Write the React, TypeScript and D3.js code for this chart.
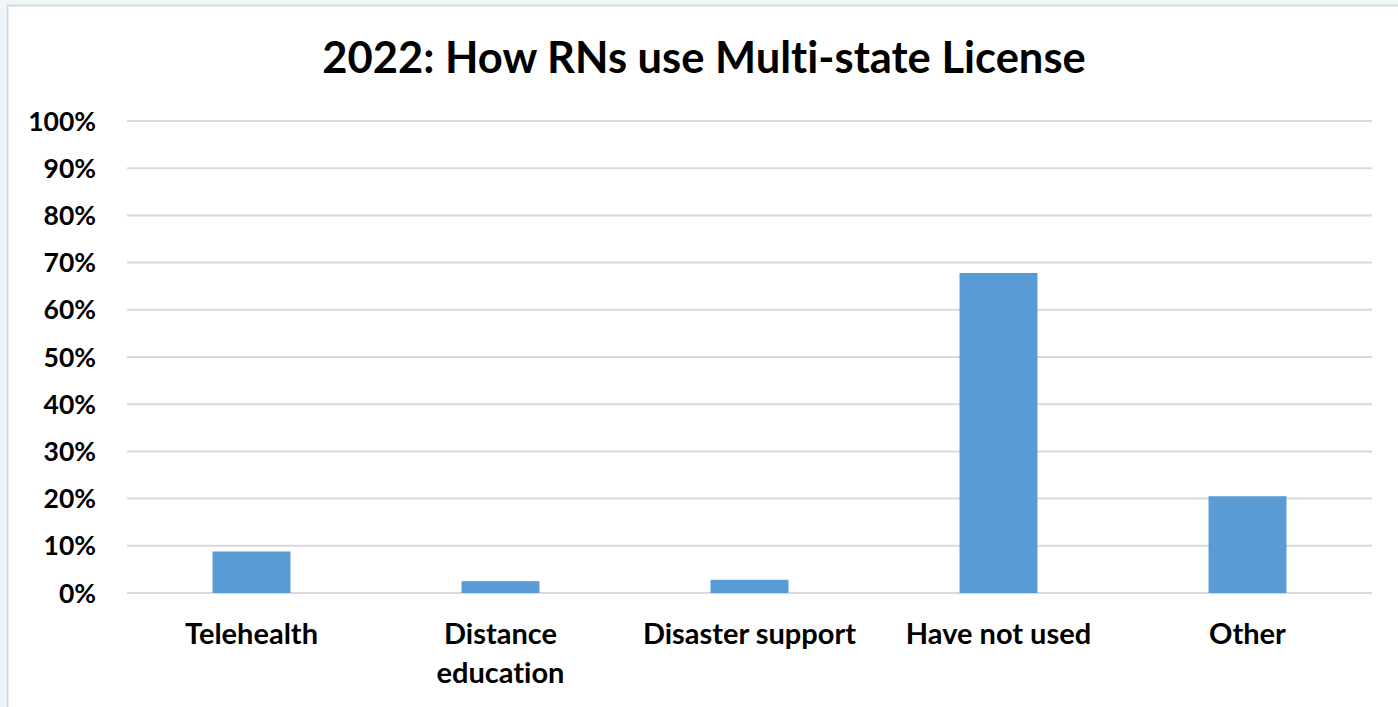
import React from "react";
import * as d3 from "d3";

const categories: string[][] = [
  ["Telehealth"],
  ["Distance", "education"],
  ["Disaster support"],
  ["Have not used"],
  ["Other"],
];
const values: number[] = [0.088, 0.025, 0.028, 0.678, 0.205];
const yTicks: number[] = [0, 0.1, 0.2, 0.3, 0.4, 0.5, 0.6, 0.7, 0.8, 0.9, 1.0];
const title = "2022: How RNs use Multi-state License";

const W = 1398;
const H = 707;
const FONT = "Lato, 'Open Sans', 'Liberation Sans', sans-serif";

export default function App() {
  const x = d3
    .scaleBand<number>()
    .domain(values.map((_, i) => i))
    .range([127, 1372])
    .paddingInner(0.687)
    .paddingOuter(0.3435);
  const y = d3.scaleLinear().domain([0, 1]).range([593, 121]);
  const fmt = d3.format(".0%");

  return (
    <svg
      width={W}
      height={H}
      style={{
        position: "absolute",
        left: 0,
        top: 0,
        display: "block",
        fontVariantLigatures: "none",
      }}
    >
      <rect x={0} y={0} width={W} height={H} fill="#eef6fa" />
      <rect x={7} y={5} width={W} height={H} fill="#ffffff" />
      <line x1={7.5} y1={5} x2={7.5} y2={H} stroke="#d9d9d9" strokeWidth={2} />
      <line x1={7} y1={5.5} x2={W} y2={5.5} stroke="#d9d9d9" strokeWidth={2} />

      <text
        x={704}
        y={73}
        textAnchor="middle"
        fontFamily={FONT}
        fontWeight={700}
        fontSize={43.5}
        fill="#000"
      >
        {title}
      </text>

      {yTicks.map((t) => (
        <g key={t}>
          <line
            x1={127}
            x2={1372}
            y1={y(t)}
            y2={y(t)}
            stroke="#d9d9d9"
            strokeWidth={2}
          />
          <text
            x={96}
            y={y(t)}
            dy="0.36em"
            textAnchor="end"
            fontFamily={FONT}
            fontWeight={700}
            fontSize={26.5}
            fill="#000"
          >
            {fmt(t)}
          </text>
        </g>
      ))}

      {values.map((v, i) => (
        <rect
          key={i}
          x={x(i)}
          y={y(v)}
          width={x.bandwidth()}
          height={y(0) - y(v)}
          fill="#5b9bd5"
        />
      ))}

      {categories.map((lines, i) => {
        const cx = (x(i) as number) + x.bandwidth() / 2;
        return (
          <text
            key={i}
            textAnchor="middle"
            fontFamily={FONT}
            fontWeight={700}
            fontSize={29}
            fill="#000"
          >
            {lines.map((l, j) => (
              <tspan key={j} x={cx} y={644 + j * 39}>
                {l}
              </tspan>
            ))}
          </text>
        );
      })}
    </svg>
  );
}
